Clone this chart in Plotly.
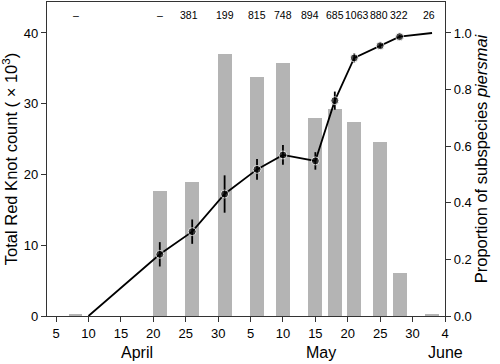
import plotly.graph_objects as go

# Day numbers: April 1 = 1, May 1 = 31, June 1 = 62
bar_days = [8, 21, 26, 31, 36, 40, 45, 48, 51, 55, 58, 63]
bar_counts = [0.2, 17.7, 19.0, 37.0, 33.8, 35.8, 28.0, 29.3, 27.4, 24.6, 6.1, 0.2]
sample_labels = ["–", "–", "381", "199", "815", "748", "894", "685", "1063", "880", "322", "26"]

line_days = [10, 21, 26, 31, 36, 40, 45, 48, 51, 55, 58, 63]
prop_piersmai = [0.0, 0.218, 0.298, 0.431, 0.518, 0.569, 0.548, 0.761, 0.912, 0.955, 0.987, 1.0]
prop_err = [0.0, 0.043, 0.043, 0.066, 0.037, 0.035, 0.031, 0.032, 0.016, 0.008, 0.006, 0.0]
marker_sizes = [0, 8, 8, 8, 8, 8, 8, 8, 8, 8, 8, 0]

tick_vals = [5, 10, 15, 20, 25, 30, 35, 40, 45, 50, 55, 60, 65]
tick_text = ["5", "10", "15", "20", "25", "30", "5", "10", "15", "20", "25", "30", "4"]
month_names = ["April", "May", "June"]
month_pos = [17.5, 45.9, 65]

# small pixel nudges for the crowded sample-size labels (presentation only)
label_nudge = [0, 0, -3, 0, 0, 0, -5, 0, 2.5, -1, -1, -3]

FONT = "Liberation Sans, Arial, sans-serif"

fig = go.Figure()
fig.add_trace(go.Bar(x=bar_days, y=bar_counts, width=2.15,
                     marker=dict(color="#b4b4b4", line=dict(width=0)),
                     yaxis="y", showlegend=False))
fig.add_trace(go.Scatter(x=line_days, y=prop_piersmai, yaxis="y2", mode="lines+markers",
                         line=dict(color="black", width=1.8),
                         marker=dict(color="black", size=marker_sizes),
                         error_y=dict(type="data", array=prop_err, color="black",
                                      thickness=1.8, width=0),
                         showlegend=False))

for d, s, nx in zip(bar_days, sample_labels, label_nudge):
    fig.add_annotation(x=d, y=42.6, xref="x", yref="y", text=s, showarrow=False,
                       xshift=nx,
                       font=dict(size=10.5, color="black", family=FONT),
                       xanchor="center", yanchor="middle")

for m, p in zip(month_names, month_pos):
    fig.add_annotation(x=p, y=-0.116, xref="x", yref="paper", text=m, showarrow=False,
                       font=dict(size=16, color="black", family=FONT),
                       xanchor="center", yanchor="middle")

fig.update_layout(
    width=500, height=364,
    margin=dict(l=47, r=55, t=2, b=48),
    plot_bgcolor="white", paper_bgcolor="white",
    font=dict(family=FONT, size=13, color="black"),
    bargap=0,
    xaxis=dict(range=[3.6, 65], tickmode="array", tickvals=tick_vals, ticktext=tick_text,
               showline=True, linecolor="#333", linewidth=1.2, mirror=True,
               ticks="outside", ticklen=5, tickcolor="#333", showgrid=False, zeroline=False,
               tickfont=dict(size=13)),
    yaxis=dict(range=[0, 44.38], tickvals=[0, 10, 20, 30, 40],
               showline=True, linecolor="#333", linewidth=1.2,
               ticks="outside", ticklen=5, tickcolor="#333", showgrid=False, zeroline=False,
               title=dict(text="Total Red Knot count ( × 10<sup>3</sup>)", font=dict(size=16.5), standoff=4),
               tickfont=dict(size=13)),
    yaxis2=dict(range=[0, 1.1095], tickvals=[0, 0.2, 0.4, 0.6, 0.8, 1.0], tickformat=".1f",
                overlaying="y", side="right",
                showline=True, linecolor="#333", linewidth=1.2,
                ticks="outside", ticklen=5, tickcolor="#333", showgrid=False, zeroline=False,
                title=dict(text="Proportion of subspecies <i>piersmai</i>", font=dict(size=16.5), standoff=4),
                tickfont=dict(size=13)),
)

fig.write_html("out.html", config={"displayModeBar": False},
               post_script="document.body.style.margin='0';document.body.style.padding='0';")
